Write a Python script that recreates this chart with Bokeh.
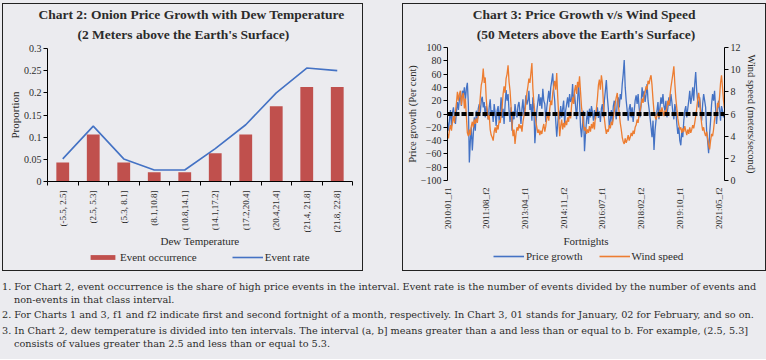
import math
from bokeh.plotting import figure
from bokeh.models import (Range1d, LinearAxis, FixedTicker, SingleIntervalTicker,
                          NumeralTickFormatter, CustomJSTickFormatter, Legend, LegendItem,
                          Span, Div, Spacer, Title)
from bokeh.layouts import row, column
from bokeh.embed import file_html
from bokeh.resources import INLINE

BG = "#ebebef"
INK = "#2b2b2b"
FONT = "Liberation Serif"
RED = "#c0504d"
BLUE = "#4472c4"
ORANGE = "#ed7d31"

# ---------------- Chart 2 data ----------------
dew_intervals = ["(-5.5, 2.5]", "(2.5, 5.3]", "(5.3, 8.1]", "(8.1,10.8]", "(10.8,14.1]",
                 "(14.1,17.2]", "(17.2,20.4]", "(20.4,21.4]", "(21.4, 21.8]", "(21.8, 22.8]"]
event_occurrence = [0.043, 0.106, 0.043, 0.021, 0.021, 0.064, 0.106, 0.170, 0.213, 0.213]
event_rate = [0.051, 0.125, 0.051, 0.026, 0.026, 0.074, 0.128, 0.200, 0.256, 0.250]
proportion_ticks = [0, 0.05, 0.1, 0.15, 0.2, 0.25, 0.3]

# ---------------- Chart 3 data ----------------
price_growth = [
    -12, -25, -8, 6, -18, 2, 10, -6, -15, 4,
    18, 6, 22, 30, 12, 35, 28, 40, 20, 38,
    47, 15, -73, -40, -20, -55, -30, -5, -25, 5,
    -10, 8, 15, 2, 20, 26, 10, 18, -5, 12,
    4, -8, 10, 22, -3, 6, -12, 15, 2, -18,
    5, 12, -10, 3, 25, -6, 8, -15, 14, 36,
    20, 30, 5, -12, 10, -25, 4, -8, 15, 2,
    -5, 12, 18, 3, -15, 8, 22, -3, 10, 28,
    14, 20, 35, 6, 15, -10, 25, 8, -44, -20,
    5, 18, 30, 12, 25, 8, 38, 20, 15, -12,
    10, 22, 35, 18, 40, 50, 61, 35, 20, -10,
    -34, -15, 5, -8, 12, -5, 8, 20, -15, 5,
    15, 25, 10, 30, 18, 22, 45, 15, 30, 12,
    -8, 20, 46, 18, -20, -35, -15, 5, -56, -30,
    -10, 5, -15, 8, -5, 12, 3, -10, 6, -8,
    2, 10, -6, 4, -12, 8, 15, -5, 20, 35,
    51, 25, 8, -20, -10, 6, -15, 12, 20, 3,
    -8, 18, 25, 10, 30, 22, 45, 60, 81, 40,
    20, 5, -10, 8, 15, -5, 10, -12, 4, 20,
    28, 15, 30, 10, -5, 15, 40, 25, 35, 18,
    30, 45, 20, 8, -5, -20, -35, -10, -54, -25,
    -10, 5, 18, -8, 10, 25, 15, 30, 12, 5,
    20, -5, 10, 25, 12, 30, 18, 2, -8, 15,
    5, -15, -30, -20, -40, -47, -25, -35, -10, 5,
    12, -5, 8, 20, 35, 15, 25, 40, 20, 45,
    63, 35, 20, 10, 25, 5, -10, 15, 30, 20,
    10, -25, -40, -59, -30, -10, 15, 30, 20, 35,
    10, -15, 5, 20, 8, -10, 12, 5, -5, 2,
]
wind_speed = [
    4.2, 3.8, 4.6, 5.0, 4.5, 5.3, 5.8, 5.2, 6.2, 7.0,
    8.0, 7.2, 7.8, 8.1, 6.8, 7.6, 7.9, 6.5, 7.4, 5.8,
    4.3, 4.0, 4.6, 4.1, 4.9, 5.3, 4.8, 5.5, 5.1, 5.6,
    5.2, 5.8, 6.4, 7.5, 8.6, 9.0, 10.1, 8.8, 9.3, 7.4,
    6.3, 5.5, 5.9, 4.6, 4.1, 3.9, 3.6, 4.4, 4.8, 4.3,
    5.0, 4.6, 5.4, 5.2, 5.9, 6.6, 7.8, 8.5, 7.9, 9.2,
    9.6, 10.4, 8.9, 8.1, 6.7, 5.2, 4.0, 4.6, 3.3, 4.2,
    4.8, 4.5, 5.1, 4.7, 5.0, 4.4, 5.3, 5.8, 6.2, 7.1,
    7.9, 8.5, 9.2, 8.8, 9.7, 10.6, 8.3, 7.0, 6.1, 5.3,
    4.8, 4.3, 4.6, 4.1, 4.5, 4.2, 4.7, 5.1, 4.4, 4.9,
    5.6, 6.0, 5.4, 6.5, 7.2, 6.8, 7.9, 8.5, 9.0, 8.2,
    9.7, 7.6, 5.8, 4.0, 4.9, 5.5, 4.6, 5.2, 4.8, 5.4,
    5.0, 5.7, 5.3, 6.2, 5.6, 6.8, 7.5, 6.9, 8.1, 8.6,
    7.8, 8.9, 8.4, 9.4, 8.0, 6.6, 5.9, 5.0, 4.5, 4.8,
    4.2, 4.6, 4.3, 4.9, 4.4, 5.1, 4.7, 5.3, 4.6, 5.8,
    6.5, 7.4, 8.6, 9.1, 8.2, 9.5, 8.8, 7.0, 5.6, 4.8,
    4.2, 4.6, 4.4, 5.0, 4.7, 5.3, 5.0, 5.6, 6.3, 7.0,
    7.5, 7.9, 6.8, 6.1, 5.2, 4.6, 3.9, 3.5, 3.3, 3.8,
    3.4, 3.7, 4.1, 3.6, 3.9, 4.3, 4.0, 4.5, 4.2, 4.8,
    5.0, 5.5, 5.2, 6.0, 6.3, 6.8, 7.4, 7.0, 7.7, 8.0,
    8.5, 8.2, 9.0, 8.7, 9.2, 9.5, 8.6, 7.3, 6.2, 5.8,
    5.5, 5.9, 6.1, 5.7, 6.4, 6.0, 6.6, 6.2, 5.8, 6.3,
    6.0, 6.6, 7.2, 6.8, 7.6, 8.4, 9.0, 9.6, 10.3, 8.7,
    7.4, 6.5, 5.6, 5.0, 4.6, 4.8, 4.3, 4.7, 4.4, 4.9,
    4.5, 4.1, 4.6, 4.2, 4.8, 4.3, 4.6, 5.0, 4.7, 5.2,
    5.8, 6.5, 7.3, 7.9, 7.2, 6.0, 5.1, 4.5, 4.8, 4.3,
    4.0, 4.4, 3.8, 3.2, 2.8, 3.6, 4.2, 4.0, 4.6, 5.5,
    6.2, 5.8, 7.0, 6.6, 7.5, 8.8, 9.5, 8.4, 7.2, 6.5,
]
fortnight_labels = [f"{y}:{m:02d}_f{f}" for y in range(2010, 2022)
                    for m in range(1, 13) for f in (1, 2)][:len(price_growth)]
fortnight_tick_step = 39

notes = [
    ["1. For Chart 2, event occurrence is the share of high price events in the interval. Event rate is the number of events divided by the number of events and",
     "non-events in that class interval."],
    ["2. For Charts 1 and 3, f1 and f2 indicate first and second fortnight of a month, respectively. In Chart 3, 01 stands for January, 02 for February, and so on."],
    ["3. In Chart 2, dew temperature is divided into ten intervals. The interval (a, b] means greater than a and less than or equal to b. For example, (2.5, 5.3]",
     "consists of values greater than 2.5 and less than or equal to 5.3."],
]


def style_axis(ax, size="10px"):
    ax.axis_line_color = "black"
    ax.major_tick_line_color = "black"
    ax.major_tick_out = 4
    ax.major_tick_in = 0
    ax.minor_tick_line_color = None
    ax.major_label_text_font = FONT
    ax.major_label_text_font_size = size
    ax.major_label_text_color = INK
    ax.major_label_standoff = 2
    ax.axis_label_text_font = FONT
    ax.axis_label_text_font_size = "11px"
    ax.axis_label_text_font_style = "normal"
    ax.axis_label_text_color = INK


def make_title(text, standoff, align="center", offset=0):
    return Title(text=text, align=align, text_font=FONT, text_font_size="13.5px",
                 text_font_style="bold", text_color=INK, standoff=standoff, offset=offset)


def base_fig(width, height, xr, yr, **kw):
    return figure(width=width, height=height, x_range=xr, y_range=yr,
                  output_backend="svg", toolbar_location=None,
                  background_fill_color=BG, border_fill_color=BG, outline_line_color=None,
                  **kw)


def legend_fig(width, height, items, loc, spacing):
    # a strip holding only the legend; its renderers sit outside the visible ranges
    lf = base_fig(width, height, Range1d(1000, 1001), Range1d(1000, 1001),
                  x_axis_type=None, y_axis_type=None, min_border=0)
    lf.grid.visible = False
    rends = []
    for kind, label, kwargs in items:
        r = lf.vbar(**kwargs) if kind == "bar" else lf.line(**kwargs)
        rends.append(LegendItem(label=label, renderers=[r]))
    lf.add_layout(Legend(items=rends, orientation="horizontal", location=loc,
                         background_fill_alpha=0, border_line_color=None,
                         label_text_font=FONT, label_text_font_size="11px",
                         label_text_color=INK, glyph_width=31, glyph_height=6,
                         label_height=14, label_standoff=2, spacing=spacing,
                         padding=0, margin=0))
    return lf


def boxed(content, w, h):
    edge = {"background-color": "#222"}
    return column(
        Spacer(width=w + 2, height=1, styles=edge, margin=0),
        row(Spacer(width=1, height=h, styles=edge, margin=0), content,
            Spacer(width=1, height=h, styles=edge, margin=0), spacing=0, margin=0),
        Spacer(width=w + 2, height=1, styles=edge, margin=0),
        spacing=0, margin=0)


H = 266

# ---------------- Chart 2 ----------------
n = len(dew_intervals)
xc = [i + 0.5 for i in range(n)]
W1, HM1 = 359, 246
p1 = base_fig(W1, HM1, Range1d(0, n), Range1d(0, 0.3),
              min_border_left=44, min_border_right=10, min_border_top=44, min_border_bottom=40)
p1.grid.visible = False
bars = p1.vbar(x=xc, top=event_occurrence, width=0.42, fill_color=RED, line_color=None)
rate = p1.line(x=xc, y=event_rate, line_color=BLUE, line_width=1.6)

xa = p1.xaxis[0]
style_axis(xa, "9px")
xa.ticker = FixedTicker(ticks=xc, minor_ticks=list(range(n + 1)))
xa.formatter = CustomJSTickFormatter(args=dict(labels=dew_intervals),
                                     code="return labels[Math.floor(tick)] || '';")
xa.major_tick_out = 0
xa.minor_tick_line_color = "black"
xa.minor_tick_out = 4
xa.minor_tick_in = 0
xa.major_label_orientation = math.pi / 2
xa.major_label_standoff = 5
xa.axis_label = "Dew Temperature"
xa.axis_label_standoff = 0

ya = p1.yaxis[0]
style_axis(ya)
ya.ticker = FixedTicker(ticks=proportion_ticks)
ya.formatter = NumeralTickFormatter(format="0.[00]")
ya.axis_label = "Proportion"
ya.axis_label_standoff = 0

p1.add_layout(make_title("(2 Meters above the Earth's Surface)", 13, "left", 30), "above")
p1.add_layout(make_title("Chart 2: Onion Price Growth with Dew Temperature", -6, "left", -9),
              "above")

leg1 = legend_fig(W1, H - HM1, [
    ("bar", "Event occurrence", dict(x=xc, top=event_occurrence, width=0.42,
                                     fill_color=RED, line_color=None)),
    ("line", "Event rate", dict(x=xc, y=event_rate, line_color=BLUE, line_width=1.6)),
], (40, 6), 35)

# ---------------- Chart 3 ----------------
m = len(price_growth)
idx = list(range(m))
W2, HM2 = 362, 245
p2 = base_fig(W2, HM2, Range1d(0, m - 1), Range1d(-100, 100),
              min_border_left=43, min_border_right=41, min_border_top=43, min_border_bottom=40)
p2.grid.visible = False
p2.extra_y_ranges = {"wind": Range1d(0, 12)}
pl = p2.line(idx, price_growth, line_color=BLUE, line_width=1.3)
wl = p2.line(idx, wind_speed, line_color=ORANGE, line_width=1.3, y_range_name="wind")
p2.add_layout(Span(location=0, dimension="width", line_color="black",
                   line_width=4, line_dash="5 2"))

xb = p2.xaxis[0]
style_axis(xb, "9px")
xb.ticker = FixedTicker(ticks=list(range(0, m, fortnight_tick_step)))
xb.formatter = CustomJSTickFormatter(args=dict(labels=fortnight_labels),
                                     code="return labels[Math.round(tick)] || '';")
xb.axis_line_color = None
xb.major_tick_line_color = None
xb.major_tick_out = 0
xb.major_label_orientation = math.pi / 2
xb.major_label_standoff = 7
xb.axis_label = "Fortnights"
xb.axis_label_standoff = 3

yb = p2.yaxis[0]
style_axis(yb)
yb.ticker = SingleIntervalTicker(interval=20)
yb.axis_label = "Price growth (Per cent)"
yb.axis_label_text_font_size = "10.5px"
yb.axis_label_standoff = 0

yr = LinearAxis(y_range_name="wind", ticker=SingleIntervalTicker(interval=2),
                axis_label="Wind speed (meters/second)")
style_axis(yr)
yr.axis_label_text_font_size = "10.5px"
yr.axis_label_standoff = 2
p2.add_layout(yr, "right")

p2.add_layout(make_title("(50 Meters above the Earth's Surface)", 12), "above")
p2.add_layout(make_title("Chart 3:  Price Growth v/s Wind Speed", -6), "above")

leg2 = legend_fig(W2, H - HM2, [
    ("line", "Price growth", dict(x=idx, y=price_growth, line_color=BLUE, line_width=1.6)),
    ("line", "Wind speed", dict(x=idx, y=wind_speed, line_color=ORANGE, line_width=1.6)),
], (46, 7), 16)

# ---------------- Footnotes ----------------
paras = []
gaps = [0, 2.5, 4]
for k, lines in enumerate(notes):
    html_lines = [f"<div>{lines[0]}</div>"]
    for ln in lines[1:]:
        html_lines.append(f"<div style='padding-left:12px'>{ln}</div>")
    paras.append(f"<div style='margin-top:{gaps[k]}px'>" + "".join(html_lines) + "</div>")
notes_html = ("<div style=\"font-family:'DejaVu Serif';font-size:9.7px;line-height:12.5px;"
              f"color:{INK};white-space:nowrap;padding-top:10px;padding-left:2px\">"
              + "".join(paras) + "</div>")
foot = Div(text=notes_html, width=766, height=88, margin=0,
           styles={"background-color": BG})

panel1 = boxed(column(p1, leg1, spacing=0, margin=0), W1, H)
panel2 = boxed(column(p2, leg2, spacing=0, margin=0), W2, H)
panels = row(Spacer(width=2, height=H + 2, margin=0), panel1,
             Spacer(width=39, height=H + 2, margin=0), panel2, spacing=0, margin=0)
layout = column(Spacer(width=766, height=3, margin=0), panels, foot,
                styles={"background-color": BG}, spacing=0, margin=0)

open("out.html", "w").write(file_html(layout, INLINE))
